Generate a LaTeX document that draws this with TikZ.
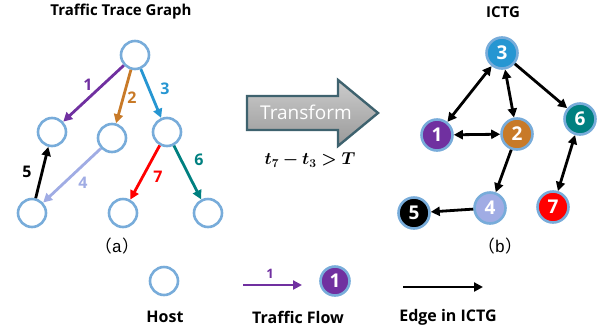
\documentclass[tikz,border=0pt]{standalone}
\usepackage{bm}
\usepackage{fontspec}
\setmainfont{Open Sans}
\newfontfamily\cjk{Noto Sans CJK SC}
\newfontfamily\monof{Liberation Mono}
\usetikzlibrary{arrows.meta,shapes.geometric}
\definecolor{hostblue}{RGB}{120,172,218}
\definecolor{cpurple}{RGB}{112,48,160}
\definecolor{corange}{RGB}{200,122,40}
\definecolor{cblue}{RGB}{38,150,210}
\definecolor{clav}{RGB}{160,172,228}
\definecolor{cteal}{RGB}{0,128,128}
\definecolor{cred}{RGB}{255,0,0}
\definecolor{arrowborder}{RGB}{62,98,110}
\tikzset{
  host/.style={circle,draw=hostblue,line width=2.6pt,minimum size=28pt,inner sep=0pt},
  ictg/.style={circle,draw=hostblue,line width=2.6pt,minimum size=31pt,inner sep=0pt,
     text=white,font=\bfseries\fontsize{19}{19}\selectfont},
  flow/.style={line width=2.8pt,-{Triangle[length=9pt,width=9pt]}},
  edge/.style={line width=2.8pt,black,-{Triangle[length=9pt,width=9pt]}},
  bedge/.style={line width=2.8pt,black,{Triangle[length=9pt,width=9pt]}-{Triangle[length=9pt,width=9pt]}},
  flabel/.style={font=\bfseries\fontsize{16}{16}\selectfont},
  title/.style={font=\bfseries\fontsize{15}{15}\selectfont},
  legend/.style={font=\bfseries\fontsize{16}{16}\selectfont},
  sub/.style={font=\fontsize{17}{17}\selectfont},
  formula/.style={font=\fontsize{16.5}{16.5}\selectfont}
}
\begin{document}
\begin{tikzpicture}[x=1pt,y=-1pt]
\useasboundingbox (0,0) rectangle (602,333);
% titles
\node[title] (t1) at (121,12) {Traffic Trace Graph};
\node[title] (t2) at (503,12) {ICTG};
% left graph
\node[host] (a0) at (135,55) {};
\node[host] (a1) at (52,132) {};
\node[host] (a2) at (112,138) {};
\node[host] (a3) at (167,132) {};
\node[host] (a4) at (32,213) {};
\node[host] (a5) at (123,213) {};
\node[host] (a6) at (208,213) {};
\draw[flow,cpurple] (a0) -- (a1);
\draw[flow,corange] (a0) -- (a2);
\draw[flow,cblue] (a0) -- (a3);
\draw[flow,clav] (a2) -- (a4);
\draw[flow,black] (a4) -- (a1);
\draw[flow,cteal] (a3) -- (a6);
\draw[flow,cred] (a3) -- (a5);
\node[flabel,text=cpurple] (l1) at (88,85) {1};
\node[flabel,text=corange] (l2) at (132,98) {2};
\node[flabel,text=cblue] (l3) at (165,89) {3};
\node[flabel,text=clav] (l4) at (83,183) {4};
\node[flabel,text=black] (l5) at (27,172) {5};
\node[flabel,text=cteal] (l6) at (199,160) {6};
\node[flabel,text=cred] (l7) at (158,177) {7};
\node[sub] (sa) at (117,246) {\cjk{（}\monof a\cjk{）}};
% transform arrow
\shade[top color=gray!40,bottom color=gray!80,draw=arrowborder,line width=2.4pt,line join=miter]
  (247,96) -- (338,96) -- (338,80) -- (378,113) -- (338,146) -- (338,130) -- (247,130) -- cycle;
\node[text=white,font=\fontsize{19}{19}\selectfont] (tr) at (306,112) {Transform};
\node[formula] (fm) at (310,160) {$\bm{t}_{\bm{7}} \mathbin{\bm{-}} \bm{t}_{\bm{3}} \mathrel{\bm{>}} \bm{T}$};
% right graph
\node[ictg,fill=cblue] (b3) at (502,53) {3};
\node[ictg,fill=cpurple] (b1) at (437,135) {1};
\node[ictg,fill=corange] (b2) at (517,134) {2};
\node[ictg,fill=cteal] (b6) at (580,119) {6};
\node[ictg,fill=clav] (b4) at (490,208) {4};
\node[ictg,fill=black] (b5) at (414,213) {5};
\node[ictg,fill=cred] (b7) at (553,207) {7};
\draw[bedge] (b3) -- (b1);
\draw[bedge] (b3) -- (b2);
\draw[bedge] (b1) -- (b2);
\draw[edge] (b3) -- (b6);
\draw[bedge] (b6) -- (b7);
\draw[edge] (b2) -- (b4);
\draw[edge] (b4) -- (b5);
\node[sub] (sb) at (500,246) {\cjk{（}\monof b\cjk{）}};
% legend
\node[host] (lh) at (164,281) {};
\node[legend] (lht) at (165,317) {Host};
\coordinate (lfa) at (243,285);
\coordinate (lfb) at (302,285);
\draw[flow,cpurple,line width=2.4pt] (lfa) -- (lfb);
\node[font=\bfseries\fontsize{13}{13}\selectfont,text=cpurple] (lf1) at (270,274) {1};
\node[ictg,fill=cpurple,minimum size=29pt] (ln1) at (335,281) {1};
\node[legend] (lft) at (298,317) {Traffic Flow};
\coordinate (lea) at (403,287);
\coordinate (leb) at (483,287);
\draw[edge,line width=2.4pt] (lea) -- (leb);
\node[legend] (let) at (448,317) {Edge in ICTG};
\end{tikzpicture}
\end{document}
